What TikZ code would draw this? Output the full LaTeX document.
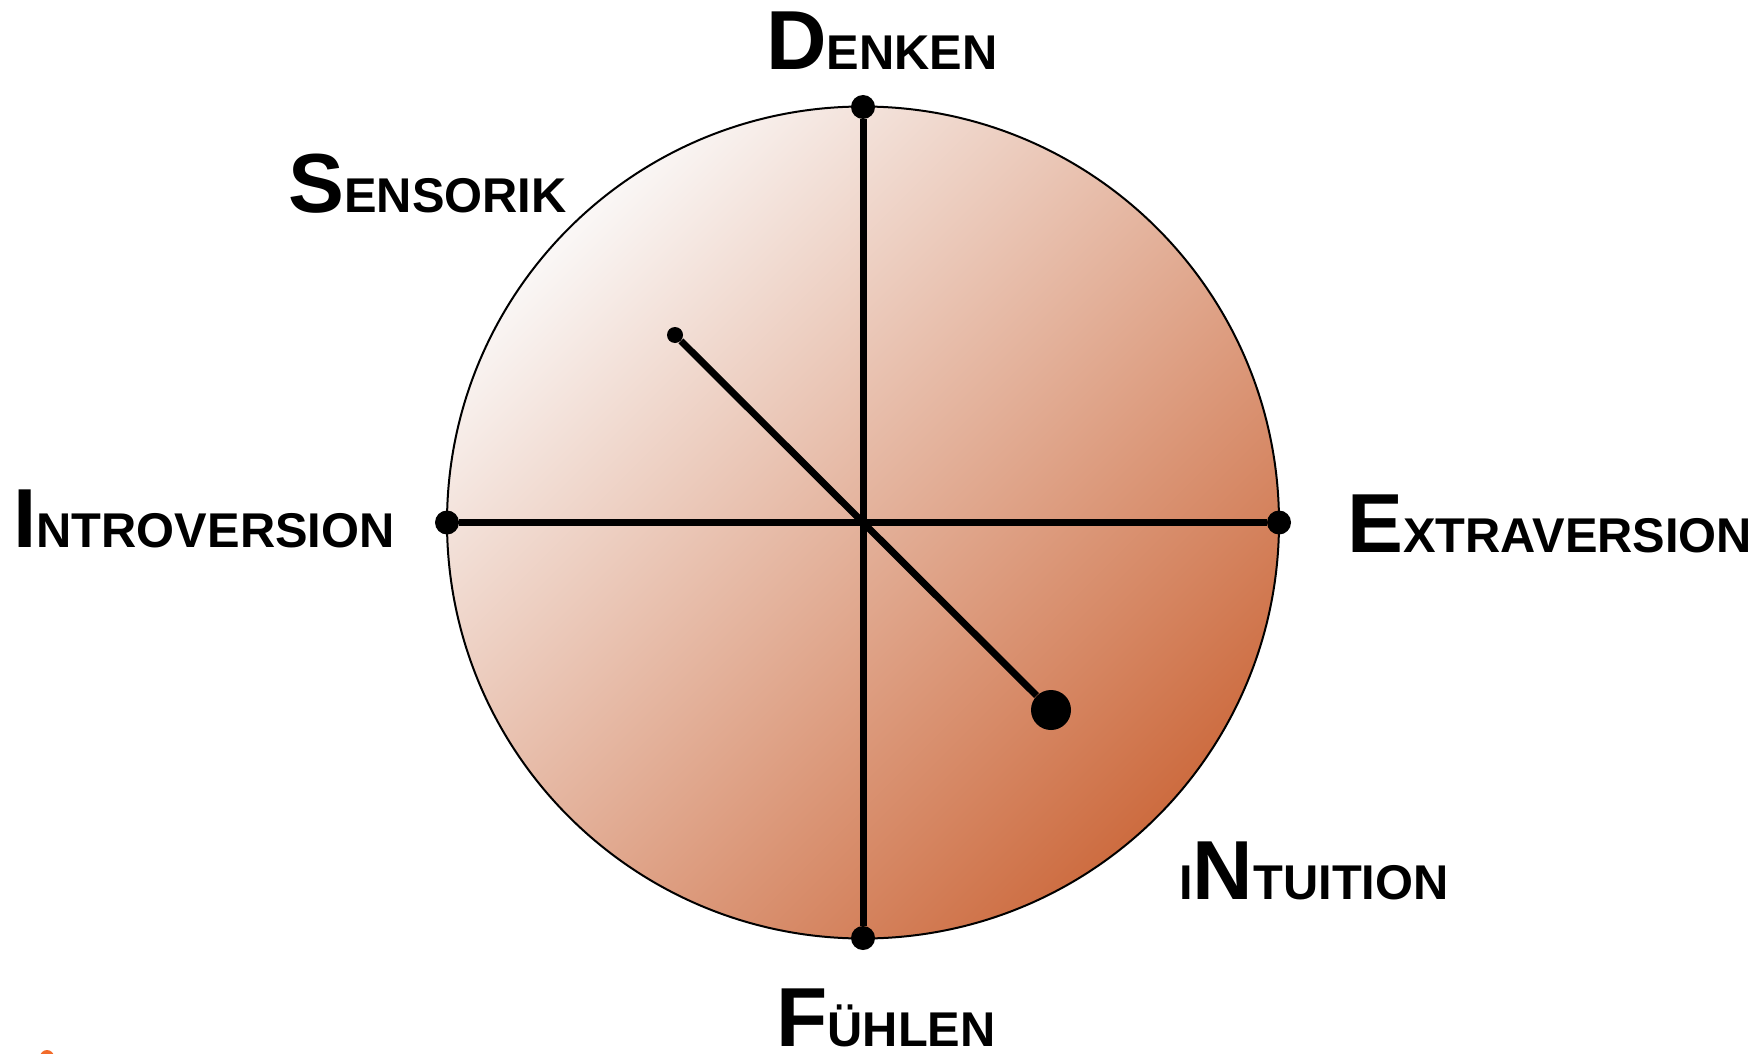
\documentclass[tikz,border=0pt]{standalone}
\usepackage{fontspec}
\setmainfont{Liberation Sans}
\usepackage{xcolor}
\usepackage{tikz}
\usetikzlibrary{positioning}
\definecolor{shadelight}{HTML}{FAF7F6}
\definecolor{shademid}{HTML}{E8C7BA}
\definecolor{shadedark}{HTML}{CD6C40}
\definecolor{cutorange}{HTML}{F26B2A}
\newcommand{\capbig}{\fontsize{41.9}{42}\selectfont}
\newcommand{\capsmall}{\fontsize{24.4}{25}\selectfont}

\begin{document}
\begin{tikzpicture}[x=0.5pt, y=-0.5pt,
    axisline/.style={line width=3.5pt},
    enddot/.style={circle, fill=black, inner sep=0pt, minimum size=12pt},
    typelabel/.style={anchor=base west, inner sep=0pt, font=\bfseries}]
    \useasboundingbox (0,0) rectangle (1762,1054);
    \coordinate (mid) at (863,522.5);
    \shadedraw[top color=shadelight, middle color=shademid, bottom color=shadedark,
          shading angle=45, line width=1pt] (mid) circle[radius=416];
    % axis end points
    \node[enddot] (dotdenken) at (863,107) {};
    \node[enddot] (dotfuehlen) at (863,938) {};
    \node[enddot] (dotintro) at (447,522.5) {};
    \node[enddot] (dotextra) at (1279,522.5) {};
    \node[circle, fill=black, inner sep=0pt, minimum size=8pt] (dotsens) at (675,335) {};
    \node[circle, fill=black, inner sep=0pt, minimum size=20pt] (dotintu) at (1051,710) {};
    \draw[axisline] (dotdenken) -- (dotfuehlen);
    \draw[axisline] (dotintro) -- (dotextra);
    \draw[axisline] (dotsens) -- (dotintu);
    % labels
    \node[typelabel] (denken) at (766,70) {{\capbig D}{\capsmall ENKEN}};
    \node[typelabel] (sensorik) at (288,213) {{\capbig S}{\capsmall ENSORIK}};
    \node[typelabel] (introversion) at (13,547) {{\capbig I}{\capsmall NTROVERSION}};
    \node[typelabel] (extraversion) at (1347,552) {{\capbig E}{\capsmall XTRAVERSION}};
    \node[typelabel] (intuition) at (1179,899) {{\capsmall I}{\capbig N}{\capsmall TUITION}};
    \node[typelabel] (fuehlen) at (776,1046) {{\capbig F}{\capsmall ÜHLEN}};
    \fill[cutorange] (47,1057) circle[radius=7];
  \end{tikzpicture}
\end{document}
